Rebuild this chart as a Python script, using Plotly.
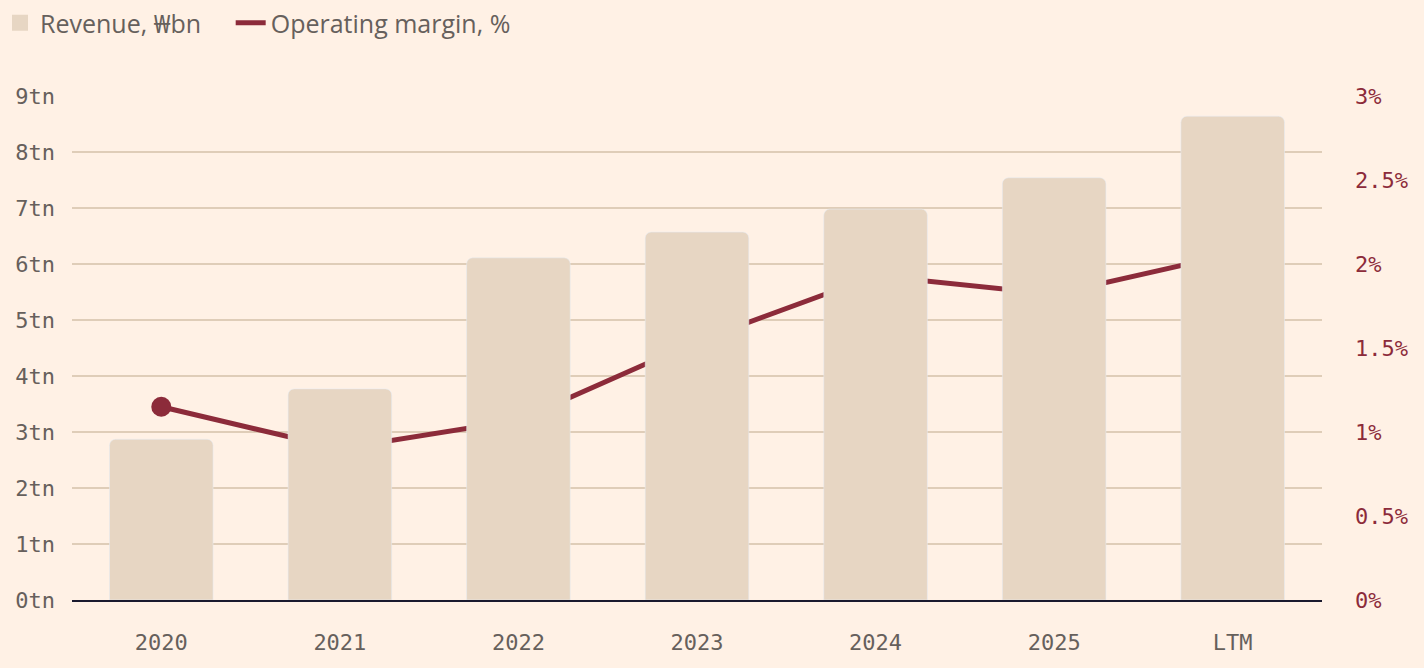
import plotly.graph_objects as go

# data
years = ["2020", "2021", "2022", "2023", "2024", "2025", "LTM"]
revenue_tn = [2.87, 3.77, 6.11, 6.57, 6.98, 7.54, 8.64]
margin_pct = [1.15, 0.90, 1.07, 1.54, 1.93, 1.82, 2.06]

rev_ticks = list(range(0, 10))
rev_labels = [f"{t}tn" for t in rev_ticks]
margin_ticks = [0, 0.5, 1, 1.5, 2, 2.5, 3]
margin_labels = [f"{t:g}%" for t in margin_ticks]

bg = "#fff1e5"
bar_col = "#e7d6c3"
line_col = "#8c2b3a"
grid_col = "#dfcdb8"
text_col = "#66605c"
mono = "DejaVu Sans Mono, Liberation Mono, monospace"
legend_font = dict(family="Open Sans, Noto Sans, DejaVu Sans, sans-serif", size=25, color=text_col)

fig = go.Figure()

# margin line lives on the main y axis, bars on the overlay (y2) so they cover the line
fig.add_trace(go.Scatter(
    x=years, y=margin_pct, name="Operating margin, %",
    mode="lines", line=dict(color=line_col, width=5),
    legend="legend2", hoverinfo="skip",
))
fig.add_trace(go.Scatter(
    x=years[:1], y=margin_pct[:1], mode="markers",
    marker=dict(color=line_col, size=20),
    showlegend=False, hoverinfo="skip",
))
fig.add_trace(go.Bar(
    x=years, y=revenue_tn, name="Revenue, \u20a9bn",
    marker=dict(color=bar_col, cornerradius=6),
    yaxis="y2", showlegend=False, hoverinfo="skip",
))
# legend-only swatch, bigger than the default bar swatch
fig.add_trace(go.Scatter(
    x=[None], y=[None], name="Revenue, \u20a9bn", mode="markers",
    marker=dict(color=bar_col, size=22, symbol="square"),
    yaxis="y2", legend="legend", hoverinfo="skip",
))

fig.update_layout(
    width=1424, height=668,
    paper_bgcolor=bg, plot_bgcolor=bg,
    margin=dict(l=72, r=102, t=96, b=68),
    bargap=0.42,
    showlegend=True,
    legend=dict(
        orientation="h", xref="container", yref="container",
        x=-0.006, y=1.0, xanchor="left", yanchor="top",
        font=legend_font, itemwidth=30, bgcolor="rgba(0,0,0,0)",
    ),
    legend2=dict(
        orientation="h", xref="container", yref="container",
        x=0.162, y=1.0, xanchor="left", yanchor="top",
        font=legend_font, itemwidth=30, bgcolor="rgba(0,0,0,0)",
    ),
    xaxis=dict(
        type="category", categoryorder="array", categoryarray=years,
        showgrid=False, showline=True, linecolor="#1a1a2e", linewidth=2,
        ticks="", ticklabelstandoff=22,
        tickfont=dict(family=mono, size=22, color=text_col),
    ),
    yaxis=dict(
        side="right", range=[0, 3],
        tickvals=margin_ticks, ticktext=margin_labels,
        showgrid=False, zeroline=False, showline=False, ticks="",
        ticklabelstandoff=32,
        tickfont=dict(family=mono, size=22, color=line_col),
    ),
    yaxis2=dict(
        overlaying="y", side="left", range=[0, 9],
        tickvals=rev_ticks, ticktext=rev_labels,
        showgrid=True, gridcolor=grid_col, gridwidth=2,
        zeroline=False, showline=False, ticks="",
        ticklabelstandoff=16,
        tickfont=dict(family=mono, size=22, color=text_col),
    ),
)

fig.write_html("out.html", config={"displayModeBar": False},
               post_script="document.body.style.margin='0';")
